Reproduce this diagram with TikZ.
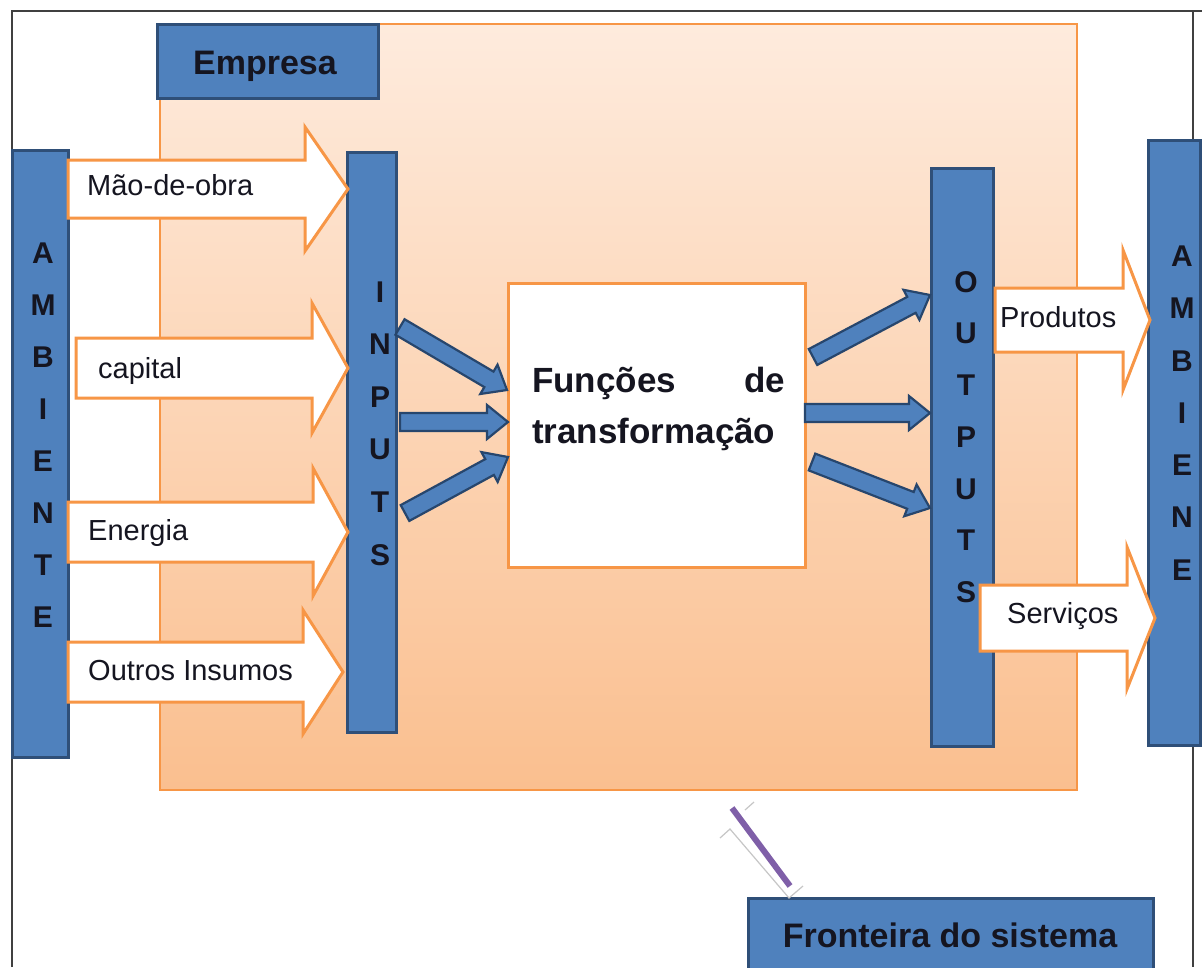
\documentclass[tikz,border=0pt]{standalone}
\usepackage{fontspec}
\setmainfont{Liberation Sans}
\usetikzlibrary{calc}
\definecolor{bfill}{HTML}{4F81BD}
\definecolor{bdraw}{HTML}{2F4F78}
\definecolor{arrdraw}{HTML}{27466D}
\definecolor{orline}{HTML}{F79646}
\definecolor{regtop}{HTML}{FEEBDD}
\definecolor{regbot}{HTML}{FABF8F}
\definecolor{purp}{HTML}{7F5FA8}
\definecolor{framec}{HTML}{404040}
\definecolor{txt}{HTML}{151520}
\newcommand\blkarrow[6]{%
  \coordinate (tmpH) at ($(#3)!#6!(#2)$);
  \path[#1] ($(#2)!#4!-90:(#3)$) -- ($(tmpH)!#4!-90:(#3)$) -- ($(tmpH)!#5!-90:(#3)$) -- (#3)
    -- ($(tmpH)!#5!90:(#3)$) -- ($(tmpH)!#4!90:(#3)$) -- ($(#2)!#4!90:(#3)$) -- cycle;}
\begin{document}
\begin{tikzpicture}[x=1pt,y=-1pt,
  bluebox/.style={draw=bdraw, fill=bfill, line width=3pt, inner sep=0pt},
  orarrow/.style={draw=orline, fill=white, line width=3pt, line join=miter},
  bluearrow/.style={draw=arrdraw, fill=bfill, line width=2.2pt, line join=miter},
  lbl/.style={font=\fontsize{29}{34}\selectfont, text=txt, inner sep=0pt, anchor=base west},
  vlet/.style={font=\fontsize{30}{#1}\selectfont\bfseries, text=txt, align=center, inner sep=0pt},
  vlet/.default=52,
  ttl/.style={font=\fontsize{34}{40}\selectfont\bfseries, text=txt, inner sep=0pt, anchor=base},
]
\useasboundingbox (0,0) rectangle (1202,967);
\clip (0,0) rectangle (1202,967);
\fill[white] (0,0) rectangle (1202,967);
% frame
\draw[framec, line width=2pt] (12,967) -- (12,11) -- (1202,11);
\draw[framec, line width=2pt] (1193,11) -- (1193,967);
% company region
\node[draw=orline, line width=1.2pt, top color=regtop, bottom color=regbot,
      minimum width=917pt, minimum height=766pt, inner sep=0pt] (reg) at (618.5,407) {};
\node[bluebox, minimum width=221pt, minimum height=74pt] (empresa) at (267.5,61) {};
% boxes
\node[bluebox, minimum width=56pt, minimum height=607pt] (ambL) at (40,453.5) {};
\node[bluebox, minimum width=49pt, minimum height=580pt] (inputs) at (371.5,442) {};
\node[draw=orline, fill=white, line width=3pt, minimum width=297pt, minimum height=284pt, inner sep=0pt] (fun) at (656.5,425) {};
\node[bluebox, minimum width=62pt, minimum height=578pt] (outputs) at (962,457) {};
\node[bluebox, minimum width=52pt, minimum height=605pt] (ambR) at (1174,442.5) {};
% orange block arrows
\coordinate (a1s) at (68,189);  \coordinate (a1e) at (348,189);
\coordinate (a2s) at (76,368);  \coordinate (a2e) at (348,368);
\coordinate (a3s) at (68,532);  \coordinate (a3e) at (348,532);
\coordinate (a4s) at (68,672);  \coordinate (a4e) at (343,672);
\coordinate (p1s) at (995,320); \coordinate (p1e) at (1150,320);
\coordinate (s1s) at (980,618); \coordinate (s1e) at (1155,618);
\blkarrow{orarrow}{a1s}{a1e}{29pt}{62pt}{43pt}
\blkarrow{orarrow}{a2s}{a2e}{30pt}{65pt}{36pt}
\blkarrow{orarrow}{a3s}{a3e}{30pt}{64pt}{35pt}
\blkarrow{orarrow}{a4s}{a4e}{30pt}{62pt}{40pt}
\blkarrow{orarrow}{p1s}{p1e}{32pt}{70pt}{27pt}
\blkarrow{orarrow}{s1s}{s1e}{33pt}{71pt}{28pt}
% blue arrows
\coordinate (i1s) at (400,327); \coordinate (i1e) at (507,390);
\coordinate (i2s) at (400,422); \coordinate (i2e) at (508,422);
\coordinate (i3s) at (405,513); \coordinate (i3e) at (508,457);
\coordinate (o1s) at (813,357); \coordinate (o1e) at (930,295);
\coordinate (o2s) at (805,413); \coordinate (o2e) at (930,413);
\coordinate (o3s) at (812,462); \coordinate (o3e) at (930,508);
\foreach \a in {i1,i2,i3,o1,o2,o3}{\blkarrow{bluearrow}{\a s}{\a e}{9pt}{17pt}{21pt}}
% labels
\node[lbl] (lmao) at (87,195) {Mão-de-obra};
\node[lbl] (lcap) at (98,378) {capital};
\node[lbl] (lene) at (88,540) {Energia};
\node[lbl] (lout) at (88,680) {Outros Insumos};
\node[lbl] (lpro) at (1000,327) {Produtos};
\node[lbl] (lser) at (1007,623) {Serviços};
% vertical words
\node[vlet] (tambL) at (43,435.5) {A\\M\\B\\I\\E\\N\\T\\E};
\node[vlet=52.6] (tinp) at (380,423.5) {I\\N\\P\\U\\T\\S};
\node[vlet=51.7] (tout) at (966,437) {O\\U\\T\\P\\U\\T\\S};
\node[vlet=52.3] (tambR) at (1182,413) {A\\M\\B\\I\\E\\N\\E};
% titles
\node[ttl] (templ) at (265,74) {Empresa};
\node[font=\fontsize{35}{51}\selectfont\bfseries, text=txt, text width=253pt, align=left,
      inner sep=0pt, anchor=base west] (tfun) at (532,392) {Funções\hfill de\\transformação};
% system boundary
\node[bluebox, minimum width=405pt, minimum height=92pt] (fronteira) at (950.5,944) {};
\node[ttl] (tfro) at (950,947) {Fronteira do sistema};
\coordinate (fb1) at (790,886); \coordinate (fb2) at (732,808);
\draw[gray!45, line width=1.2pt] (720,838) -- (730,829) -- (789,898) -- (803,886);
\draw[gray!45, line width=1.2pt] (745,810) -- (754,802);
\draw[purp, line width=6pt] (fb1) -- (fb2);
\end{tikzpicture}
\end{document}
